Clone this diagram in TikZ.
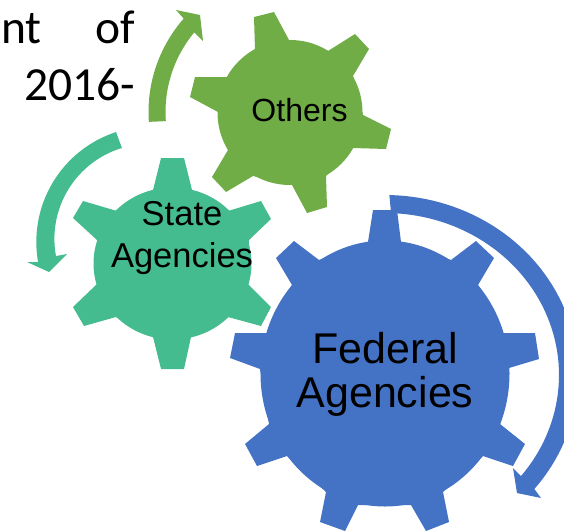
\documentclass[tikz,border=0pt]{standalone}
\usepackage{fontspec}
\setmainfont{Liberation Sans}
\newfontfamily\bodyfont{Carlito}
\definecolor{gearblue}{HTML}{4472C4}
\definecolor{gearteal}{HTML}{44BC8F}
\definecolor{geargreen}{HTML}{70AD47}
\tikzset{
  lbl/.style={inner sep=0pt,align=center,text=black},
  bodytext/.style={inner sep=0pt,anchor=base,text=black,font=\bodyfont\fontsize{47.5}{47.5}\selectfont},
}
\begin{document}
\begin{tikzpicture}[x=1pt,y=-1pt]
\useasboundingbox (0,0) rectangle (564,530);
\clip (0,0) rectangle (564,530);
% body text fragments
\node[bodytext,anchor=base west] (t1) at (1,43) {nt};
\node[bodytext,anchor=base east] (t2) at (135,43) {of};
\node[bodytext,anchor=base east] (t3) at (135.5,100) {2016-};
% Others gear
\fill[geargreen] (290,112.5) circle[radius=72.5];
\fill[geargreen] (254,17)--(274,12)--(289,40)--(328,51)--(355,34)--(369,49)--(353,76)--(363,115)--(391,129)--(386,149)--(353,148)--(326,176)--(327,207)--(307,213)--(292,185)--(253,176)--(226,192)--(212,177)--(228,150)--(218,112)--(190,97)--(195,77)--(228,77)--(255,50)--cycle;
% green arrow
\fill[geargreen] plot[domain=176:221.3,samples=30] ({290+141.5*cos(\x)},{112+141.5*sin(\x)})
  -- (176,10) -- (200,15) -- (203,41)
  -- plot[domain=219.7:175.8,samples=30] ({290+124.5*cos(\x)},{112+124.5*sin(\x)}) -- cycle;
% State gear
\fill[gearteal] (172.5,263.5) ellipse[x radius=79,y radius=76];
\fill[gearteal] (153,190)--(161,158)--(184,158)--(192,190)--(228,211)--(261,201)--(271,219)--(249,240)--(248,284)--(271,307)--(261,326)--(228,317)--(191,337)--(184,369)--(161,369)--(153,337)--(116,317)--(84,326)--(73,307)--(97,284)--(97,240)--(73,218)--(83,201)--(117,211)--cycle;
% teal arrow
\fill[gearteal] plot[domain=251.9:170,samples=40] ({152+115.7*cos(\x)},{242+115.7*sin(\x)})
  -- (27,262) -- (49,272) -- (67,254)
  -- plot[domain=169.6:253.2,samples=40] ({149.4+95*cos(\x)},{238.9+95*sin(\x)}) -- cycle;
% Federal gear
\fill[gearblue] (385,373.5) ellipse[x radius=124.5,y radius=133];
\fill[gearblue] (368,242)--(373,210)--(397,210)--(401,242)--(451,260)--(476,241)--(494,258)--(478,285)--(503,333)--(535,333)--(539,359)--(509,368)--(500,424)--(525,444)--(513,466)--(483,456)--(443,492)--(449,522)--(426,531)--(411,505)--(358,505)--(345,531)--(320,522)--(326,492)--(287,456)--(257,466)--(245,444)--(269,424)--(260,369)--(230,358)--(235,333)--(267,333)--(292,285)--(276,258)--(294,241)--(319,260)--cycle;
% blue arrow
\fill[gearblue] plot[domain=-88.7:39.3,samples=60] ({385+193*cos(\x)},{375+180*sin(\x)})
  -- (541,498) -- (517,493) -- (513,468)
  -- plot[domain=38.6:-88,samples=60] ({385+174*cos(\x)},{375+162*sin(\x)}) -- cycle;
% labels
\node[lbl,font=\fontsize{32}{32}\selectfont] (others) at (299.5,110) {Others};
\node[lbl,font=\fontsize{34.5}{42}\selectfont] (state) at (182,238) {State\\Agencies};
\node[lbl,font=\fontsize{43}{44}\selectfont] (federal) at (385,374) {Federal\\Agencies};
\end{tikzpicture}
\end{document}
